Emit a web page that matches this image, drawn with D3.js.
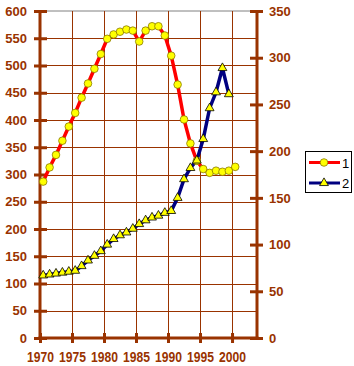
<!DOCTYPE html>
<html><head><meta charset="utf-8">
<script src="https://cdn.jsdelivr.net/npm/d3@7"></script>
<style>body{margin:0;background:#fff}svg{display:block}</style>
</head><body><svg id="c" width="354" height="366"></svg>
<script>
const years = [1970,1971,1972,1973,1974,1975,1976,1977,1978,1979,1980,1981,1982,1983,1984,1985,1986,1987,1988,1989,1990,1991,1992,1993,1994,1995,1996,1997,1998,1999,2000];
const series1 = [287,313,336,362,388,413,441,467,494,521,549,557,562,566,564,544,564,572,572,555,518,465,401,357,325,310,303,307,305,307,314];
const years2 = [1970,1971,1972,1973,1974,1975,1976,1977,1978,1979,1980,1981,1982,1983,1984,1985,1986,1987,1988,1989,1990,1991,1992,1993,1994,1995,1996,1997,1998,1999];
const series2 = [67,68,69,70,71,72,77,83,88,93,100,106,110,113,117,122,126,129,131,134,136,150,170,182,190,213,246,263,289,261];
const xTicks = [1970,1975,1980,1985,1990,1995,2000];
const leftTicks = [0,50,100,150,200,250,300,350,400,450,500,550,600];
const rightTicks = [0,50,100,150,200,250,300,350];
const legendLabels = ["1","2"];

const brown = "#993300";
const svg = d3.select("#c");
const x = d3.scaleLinear().domain([1970, 2003.9]).range([40, 257]);
const yL = d3.scaleLinear().domain([0, 600]).range([338, 11]);
const yR = d3.scaleLinear().domain([0, 350]).range([338, 11]);
const xp = yr => x(yr + 0.5);

svg.append("rect").attr("x",40).attr("y",11).attr("width",217).attr("height",327).attr("fill","#fff");
svg.append("line").attr("x1",40).attr("x2",257).attr("y1",11).attr("y2",11).attr("stroke","#808080");

svg.append("g").selectAll("line").data(leftTicks.filter(d=>d>0&&d<600)).join("line")
  .attr("x1",40).attr("x2",257).attr("y1",d=>Math.round(yL(d))+0.5).attr("y2",d=>Math.round(yL(d))+0.5)
  .attr("stroke",brown).attr("stroke-width",1);
svg.append("g").selectAll("line").data(xTicks.filter(d=>d>1970)).join("line")
  .attr("x1",d=>Math.round(x(d))+0.5).attr("x2",d=>Math.round(x(d))+0.5).attr("y1",11).attr("y2",338)
  .attr("stroke",brown).attr("stroke-width",1);

const axL = svg.append("g").attr("transform","translate(40,0)")
  .call(d3.axisLeft(yL).tickValues(leftTicks).tickSizeInner(7).tickSizeOuter(0).tickPadding(6));
const axR = svg.append("g").attr("transform","translate(257,0)")
  .call(d3.axisRight(yR).tickValues(rightTicks).tickSizeInner(6).tickSizeOuter(0).tickPadding(6));
const axB = svg.append("g").attr("transform","translate(0,338)")
  .call(d3.axisBottom(x).tickValues(xTicks).tickFormat(d3.format("d")).tickSizeInner(5).tickSizeOuter(0).tickPadding(10));
[axL, axR, axB].forEach(a=>{
  a.select(".domain").attr("stroke",brown).attr("stroke-width",3);
  a.selectAll(".tick line").attr("stroke",brown).attr("stroke-width",3);
  a.selectAll("text").attr("fill",brown).attr("font-family","Liberation Sans, Arial, sans-serif").attr("font-weight","bold").attr("font-size",13);
});
axL.selectAll(".tick line").attr("x1",7).attr("x2",-6);
axR.selectAll(".tick line").attr("x1",-7).attr("x2",6);
axB.selectAll(".tick line").attr("y1",-5).attr("y2",5);
axL.selectAll("text").attr("x",-13);
axR.selectAll("text").attr("x",12);
axB.selectAll("text").attr("font-size",15).attr("textLength",27).attr("lengthAdjust","spacingAndGlyphs").attr("y",13);
axB.select(".domain").attr("d","M38.5,0H258.5");
axL.select(".domain").attr("d","M0,11V339.5");
axR.select(".domain").attr("d","M0,11V339.5");

const d1 = years.map((yr,i)=>[yr,series1[i]]);
svg.append("path").datum(d1).attr("fill","none").attr("stroke","#ff0000").attr("stroke-width",3.5)
  .attr("d", d3.line().x(d=>xp(d[0])).y(d=>yL(d[1])));
const d2 = years2.map((yr,i)=>[yr,series2[i]]);
svg.append("path").datum(d2).attr("fill","none").attr("stroke","#000080").attr("stroke-width",3.5)
  .attr("d", d3.line().x(d=>xp(d[0])).y(d=>yR(d[1])));

const tri = d3.symbol().type(d3.symbolTriangle).size(34);
svg.append("g").selectAll("circle").data(d1).join("circle")
  .attr("cx",d=>xp(d[0])).attr("cy",d=>yL(d[1])).attr("r",3.8)
  .attr("fill","#ffff00").attr("stroke","#8a7a00").attr("stroke-width",0.8);
svg.append("g").selectAll("path").data(d2).join("path")
  .attr("transform",d=>`translate(${xp(d[0])},${yR(d[1])})`).attr("d",tri)
  .attr("fill","#ffff00").attr("stroke","#000000").attr("stroke-width",0.8);

const lg = svg.append("g");
lg.append("rect").attr("x",305.5).attr("y",151.5).attr("width",46).attr("height",41).attr("fill","#fff").attr("stroke","#000");
const lgY = [162.5, 183];
const lgColors = ["#ff0000","#000080"];
legendLabels.forEach((lab,i)=>{
  lg.append("line").attr("x1",309).attr("x2",340).attr("y1",lgY[i]).attr("y2",lgY[i]).attr("stroke",lgColors[i]).attr("stroke-width",3);
  if(i===0) lg.append("circle").attr("cx",324).attr("cy",lgY[i]).attr("r",3.8).attr("fill","#ffff00").attr("stroke","#8a7a00").attr("stroke-width",0.8);
  else lg.append("path").attr("transform",`translate(324,${lgY[i]})`).attr("d",tri).attr("fill","#ffff00").attr("stroke","#000").attr("stroke-width",0.8);
  lg.append("text").attr("x",342).attr("y",lgY[i]+5).text(lab).attr("font-family","Liberation Sans, Arial, sans-serif").attr("font-size",13).attr("fill","#000");
});
</script></body></html>
